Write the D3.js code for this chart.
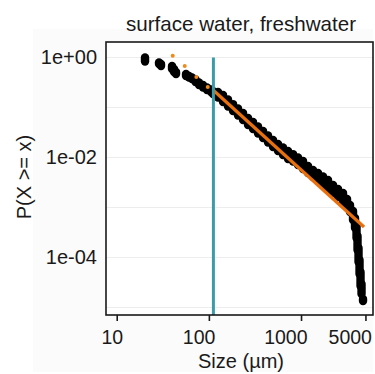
<!DOCTYPE html>
<html>
<head>
<meta charset="utf-8">
<script src="https://cdn.jsdelivr.net/npm/d3@7"></script>
<style>
  body { margin: 0; background: #ffffff; }
  svg text { font-family: "Liberation Sans", Arial, sans-serif; fill: #1a1a1a; }
</style>
</head>
<body>
<svg id="chart" width="375" height="374"></svg>
<script>
// observed sizes (µm); tied observations stack vertically, so each size
// keeps the highest and lowest P(X >= x) read off the plot
const sizeVals = [20.28, 28.77, 30.25, 39.82, 41.86, 44.01, 56.49, 60.90, 65.64, 71.62, 78.19, 86.41, 95.48, 105.5, 110.9,
  125.7, 142.4, 161.4, 182.9, 207.2, 234.8, 266.1, 301.4, 341.6, 387.0, 438.5, 496.8, 562.9, 637.9, 722.6, 818.8, 927.7,
  1051, 1191, 1349, 1529, 1733, 1963, 2225, 2520, 2856, 3157, 3402, 3667, 3855, 4002, 4103, 4207, 4314, 4423, 4535, 4707];
const probHigh = [1.0, 0.794, 0.741, 0.676, 0.589, 0.513, 0.468, 0.427, 0.398, 0.363, 0.316, 0.282, 0.251, 0.229, 0.214,
  0.204, 0.178, 0.145, 0.117, 0.0955, 0.0776, 0.0617, 0.0513, 0.0417, 0.0339, 0.0275, 0.0224, 0.0186, 0.0158, 0.0135, 0.0117, 0.0100,
  0.00851, 0.00676, 0.00562, 0.00490, 0.00417, 0.00355, 0.00282, 0.00234, 0.00195, 0.00148, 0.00112, 0.000851, 0.000617, 0.000427, 0.000269, 0.000155, 0.0000891, 0.0000513, 0.0000295, 0.0000148];
const probLow = [0.832, 0.741, 0.676, 0.589, 0.513, 0.468, 0.427, 0.398, 0.372, 0.324, 0.282, 0.251, 0.224, 0.204, 0.186,
  0.158, 0.129, 0.105, 0.0851, 0.0692, 0.0562, 0.0447, 0.0372, 0.0302, 0.0245, 0.0200, 0.0162, 0.0135, 0.0112, 0.00933, 0.00832, 0.00708,
  0.00589, 0.00490, 0.00407, 0.00339, 0.00282, 0.00234, 0.00195, 0.00162, 0.00129, 0.00102, 0.000813, 0.000562, 0.000389, 0.000245, 0.000141, 0.0000813, 0.0000468, 0.0000269, 0.0000186, 0.0000135];

// power-law fit (orange) and the sparse fitted points below xmin
const fitSize = [111, 4830];
const fitProb = [0.224, 0.000407];
const lowFitSize = [40.5, 54.7, 73.1, 97.2];
const lowFitProb = [1.086, 0.676, 0.407, 0.257];
const xmin = 112;

const xTicks = [10, 100, 1000, 5000];
const yTicks = [1, 1e-2, 1e-4];
const yTickLabels = ["1e+00", "1e-02", "1e-04"];
const gridVals = [1, 1e-1, 1e-2, 1e-3, 1e-4, 1e-5];

const title = "surface water, freshwater";
const xLabel = "Size (µm)";
const yLabel = "P(X >= x)";

const panel = {left: 106, right: 373, top: 42, bottom: 315};

const svg = d3.select("#chart");

svg.append("rect").attr("x", 33).attr("y", 29).attr("width", 340).attr("height", 343).attr("fill", "#fbfbfb");

const x = d3.scaleLog().domain([7.65, 6040]).range([panel.left, panel.right]);
const y = d3.scaleLog().domain([2.04, 7.08e-6]).range([panel.top, panel.bottom]);

svg.append("rect")
  .attr("x", panel.left).attr("y", panel.top)
  .attr("width", panel.right - panel.left).attr("height", panel.bottom - panel.top)
  .attr("fill", "#ffffff");

// horizontal grid
svg.append("g").selectAll("line").data(gridVals).join("line")
  .attr("x1", panel.left).attr("x2", panel.right)
  .attr("y1", d => y(d)).attr("y2", d => y(d))
  .attr("stroke", "#ededed").attr("stroke-width", 1);

// data points: a stack of tied points per size, drawn as a round-capped run
const pts = sizeVals.map((s, i) => ({s: s, hi: probHigh[i], lo: probLow[i]}));
svg.append("g").selectAll("line").data(pts).join("line")
  .attr("x1", d => x(d.s)).attr("x2", d => x(d.s))
  .attr("y1", d => y(d.hi)).attr("y2", d => y(d.lo))
  .attr("stroke", "#000000").attr("stroke-width", 8.4).attr("stroke-linecap", "round");

// fitted line
const line = d3.line().x(d => x(d[0])).y(d => y(d[1]));
svg.append("path")
  .datum(fitSize.map((s, i) => [s, fitProb[i]]))
  .attr("d", line).attr("fill", "none")
  .attr("stroke", "#e8700f").attr("stroke-width", 3.2);

svg.append("g").selectAll("circle").data(lowFitSize.map((s, i) => [s, lowFitProb[i]])).join("circle")
  .attr("cx", d => x(d[0])).attr("cy", d => y(d[1]))
  .attr("r", 2).attr("fill", "#f08a1c");

// xmin marker
svg.append("line")
  .attr("x1", x(xmin)).attr("x2", x(xmin))
  .attr("y1", y(1)).attr("y2", panel.bottom)
  .attr("stroke", "#3a9ca8").attr("stroke-width", 3);

// panel border
svg.append("rect")
  .attr("x", panel.left).attr("y", panel.top)
  .attr("width", panel.right - panel.left).attr("height", panel.bottom - panel.top)
  .attr("fill", "none").attr("stroke", "#1a1a1a").attr("stroke-width", 1.6);

// axes
const xAxis = d3.axisBottom(x).tickValues(xTicks).tickFormat(d3.format("d")).tickSize(6).tickPadding(9);
const xg = svg.append("g").attr("transform", `translate(0,${panel.bottom})`).call(xAxis);
xg.select(".domain").remove();
xg.selectAll("line").attr("stroke", "#1a1a1a").attr("stroke-width", 1.6);
xg.selectAll("text").attr("font-size", 19.5).attr("fill", "#1a1a1a")
  .attr("font-family", "Liberation Sans, Arial, sans-serif")
  .attr("text-anchor", "end").attr("dx", 6);

const yAxis = d3.axisLeft(y).tickValues(yTicks).tickFormat((d, i) => yTickLabels[i]).tickSize(0).tickPadding(9);
const yg = svg.append("g").attr("transform", `translate(${panel.left},0)`).call(yAxis);
yg.select(".domain").remove();
yg.selectAll("text").attr("font-size", 20).attr("fill", "#1a1a1a").attr("font-family", "Liberation Sans, Arial, sans-serif");

// titles
svg.append("text").attr("x", 241).attr("y", 31)
  .attr("text-anchor", "middle").attr("font-size", 20.6).text(title);

svg.append("text").attr("x", 241).attr("y", 368)
  .attr("text-anchor", "middle").attr("font-size", 20).text(xLabel);

svg.append("text")
  .attr("transform", `translate(31,177) rotate(-90)`)
  .attr("text-anchor", "middle").attr("font-size", 20).text(yLabel);
</script>
</body>
</html>
